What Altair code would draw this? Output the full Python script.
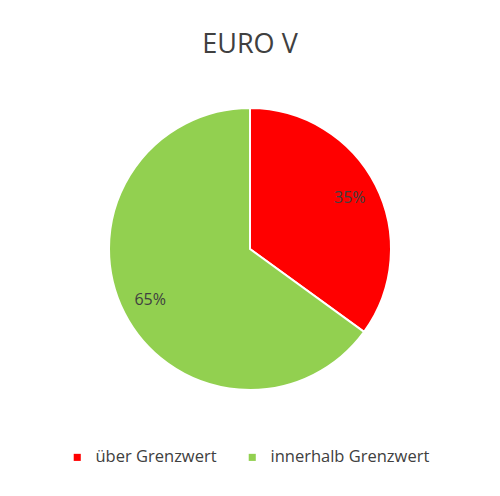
import altair as alt
import pandas as pd

categories = ["über Grenzwert", "innerhalb Grenzwert"]
shares = [35, 65]
labels = ["35%", "65%"]
colors = ["#FF0000", "#92D050"]

df = pd.DataFrame({"cat": categories, "val": shares, "lab": labels, "ord": [0, 1]})

base = alt.Chart(df).encode(
    theta=alt.Theta("val:Q", stack=True),
    order=alt.Order("ord:Q"),
)

arcs = base.mark_arc(outerRadius=141, stroke="white", strokeWidth=2).encode(
    color=alt.Color(
        "cat:N",
        scale=alt.Scale(domain=categories, range=colors),
        sort=categories,
        legend=alt.Legend(
            title=None,
            orient="none",
            legendX=61,
            legendY=380,
            direction="horizontal",
            symbolType="square",
            symbolSize=50,
            symbolStrokeWidth=0,
            labelFontSize=16.5,
            labelColor="#404040",
            labelFont="Open Sans",
            labelOffset=10,
            columnPadding=27,
        ),
    )
)

text = base.mark_text(radius=112, fontSize=16, color="#404040", font="Open Sans").encode(
    text="lab:N"
)

chart = (
    alt.layer(arcs, text)
    .properties(
        width=484,
        height=360,
        title=alt.TitleParams("EURO V", fontSize=27, font="Open Sans", fontWeight="normal", color="#404040", offset=10),
        padding={"top": 23, "left": 0, "right": 0, "bottom": 0},
    )
    .configure_view(stroke=None)
)

chart.save("out.html", embed_options={"renderer": "svg", "actions": False})
